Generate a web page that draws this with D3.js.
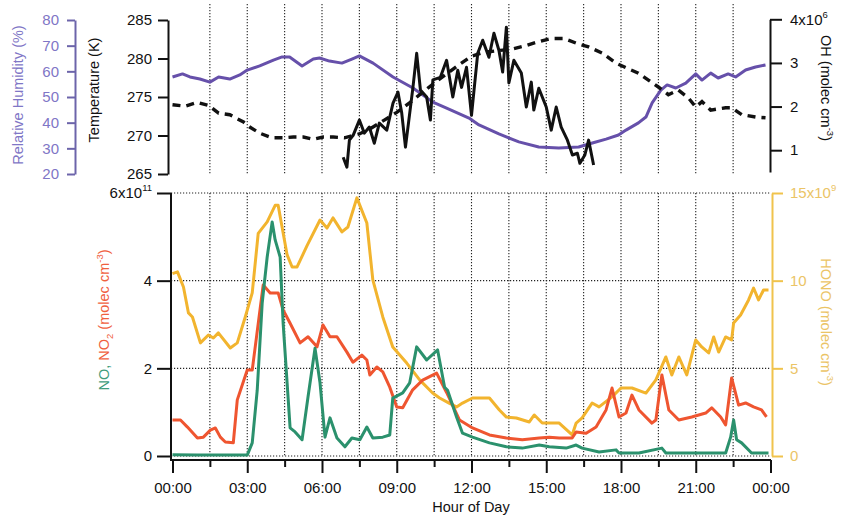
<!DOCTYPE html>
<html>
<head>
<meta charset="utf-8">
<script src="https://cdn.jsdelivr.net/npm/d3@7"></script>
<style>
  body { margin: 0; background: #fff; }
  svg text { font-family: "Liberation Sans", Arial, Helvetica, sans-serif; }
</style>
</head>
<body>
<svg id="chart" width="842" height="516"></svg>
<script>
// ---- Hour-of-day axis ----
const hourTicks = [0, 3, 6, 9, 12, 15, 18, 21, 24];
const hourLabels = ["00:00", "03:00", "06:00", "09:00", "12:00", "15:00", "18:00", "21:00", "00:00"];
const minorHours = [1.5, 4.5, 7.5, 10.5, 13.5, 16.5, 19.5, 22.5];

// ---- Upper panel tick values ----
const rhTicks = [20, 30, 40, 50, 60, 70, 80];
const tempTicks = [265, 270, 275, 280, 285];
const ohTicks = [1, 2, 3, 4];          // x10^6 molec cm-3

// ---- Lower panel tick values ----
const noxTicks = [0, 2, 4, 6];         // x10^11 molec cm-3
const honoTicks = [0, 5, 10, 15];      // x10^9 molec cm-3

// Relative humidity (%)
const rhHours = [0, 0.4, 0.7, 1.1, 1.5, 1.85, 2.3, 2.7, 3.0, 3.5, 4.05, 4.4, 4.7, 5.2, 5.65, 5.9, 6.3, 6.8, 7.2, 7.5,
  8.05, 8.85, 9.65, 10.45, 11.0, 11.9, 12.3, 13.1, 13.9, 14.7, 15.5, 16.3, 16.85, 17.4, 17.9, 18.2, 18.7, 19.0, 19.25,
  19.6, 19.85, 20.2, 20.6, 21.0, 21.25, 21.6, 21.9, 22.3, 22.6, 23.0, 23.4, 23.8];
const rhValues = [57.8, 59.0, 57.8, 57.0, 55.8, 57.8, 57.0, 58.6, 60.5, 62.1, 64.4, 65.6, 65.6, 62.1, 64.8, 65.2, 64.0, 63.2, 64.8, 66.0,
  63.2, 57.8, 53.5, 48.0, 45.7, 41.8, 39.1, 35.6, 32.5, 30.5, 30.1, 30.5, 32.1, 33.6, 35.2, 37.1, 39.9, 42.2, 47.7,
  52.7, 54.7, 53.5, 55.4, 59.0, 56.6, 59.3, 57.4, 59.0, 57.8, 60.5, 61.7, 62.5];

// Temperature (K)
const tempHours = [0, 0.5, 1.0, 1.45, 1.85, 2.3, 2.85, 3.1, 3.5, 4.0, 4.45, 4.85, 5.25, 5.65, 6.05, 6.45, 6.9, 7.5, 8.0, 8.5,
  9.0, 9.5, 10.0, 10.5, 11.0, 11.5, 12.0, 12.5, 13.0, 13.6, 14.2, 14.7, 15.2, 15.7, 16.2, 16.7, 17.25, 17.8, 18.2, 18.7,
  19.1, 19.5, 19.9, 20.3, 20.7, 21.0, 21.25, 21.6, 22.2, 22.45, 22.85, 23.4, 23.8];
const tempValues = [274.0, 273.8, 274.3, 273.9, 272.9, 272.7, 271.75, 271.1, 270.3, 269.7, 269.7, 269.8, 269.8, 269.5, 269.8, 269.8, 269.7, 270.2, 271.0, 272.0,
  273.0, 274.2, 275.5, 276.8, 278.0, 279.2, 280.3, 280.8, 281.0, 281.2, 281.7, 282.2, 282.6, 282.6, 282.0, 281.5, 280.7, 279.4, 278.8, 278.1,
  277.2, 276.3, 275.3, 275.9, 274.9, 273.7, 274.4, 273.3, 273.6, 273.6, 272.7, 272.4, 272.3];

// OH (x10^6 molec cm-3)
const ohHours = [6.85, 7.0, 7.1, 7.25, 7.5, 7.7, 7.9, 8.1, 8.3, 8.6, 8.85, 9.05, 9.2, 9.35, 9.65, 9.8, 9.95, 10.2, 10.35, 10.45,
  10.75, 11.0, 11.25, 11.45, 11.6, 11.8, 12.0, 12.25, 12.45, 12.7, 12.9, 13.1, 13.25, 13.4, 13.5, 13.7, 14.0, 14.2, 14.4, 14.5,
  14.7, 15.0, 15.2, 15.4, 15.6, 15.85, 16.05, 16.25, 16.35, 16.55, 16.7, 16.9];
const ohValues = [0.84, 0.61, 1.23, 1.34, 1.69, 1.39, 1.53, 1.16, 1.62, 1.46, 2.08, 2.33, 1.85, 1.07, 2.44, 3.22, 2.38, 2.22, 1.69, 2.61,
  2.67, 3.06, 2.22, 2.83, 2.44, 2.90, 1.80, 3.22, 3.52, 3.13, 3.68, 3.29, 2.79, 3.82, 2.54, 3.06, 2.77, 1.99, 2.56, 1.92,
  2.42, 1.99, 1.46, 1.99, 1.53, 1.23, 0.89, 0.93, 0.70, 0.89, 1.23, 0.66];

// NO (x10^11 molec cm-3)
const noHours = [0, 1.0, 2.0, 3.0, 3.2, 3.4, 3.6, 3.8, 4.0, 4.12, 4.32, 4.44, 4.72, 4.92, 5.2, 5.44, 5.72, 5.92, 6.12, 6.32,
  6.6, 6.92, 7.2, 7.52, 7.8, 8.04, 8.44, 8.72, 8.84, 9.24, 9.52, 9.8, 10.2, 10.64, 10.92, 11.04, 11.4, 11.64, 12.04, 12.72,
  13.4, 14.04, 14.72, 15.12, 15.8, 16.2, 16.44, 17.12, 17.8, 17.92, 18.72, 19.64, 19.8, 20.72, 22.2, 22.4, 22.52, 22.64, 22.84, 23.24, 23.92];
const noValues = [0.03, 0.02, 0.02, 0.02, 0.3, 1.5, 3.49, 4.54, 5.34, 4.93, 4.54, 3.03, 0.64, 0.55, 0.37, 1.35, 2.46, 1.67, 0.43, 0.87,
  0.41, 0.21, 0.41, 0.37, 0.66, 0.41, 0.43, 0.48, 1.32, 1.44, 1.67, 2.49, 2.19, 2.42, 1.57, 1.5, 0.89, 0.52, 0.43, 0.3,
  0.21, 0.18, 0.25, 0.21, 0.18, 0.25, 0.18, 0.09, 0.14, 0.07, 0.07, 0.18, 0.07, 0.07, 0.07, 0.43, 0.82, 0.37, 0.3, 0.07, 0.07];

// NO2 (x10^11 molec cm-3)
const no2Hours = [0, 0.32, 0.6, 1.0, 1.24, 1.52, 1.72, 1.92, 2.12, 2.44, 2.6, 3.0, 3.2, 3.64, 3.92, 4.24, 4.44, 4.72, 5.12, 5.44,
  5.8, 6.04, 6.32, 6.6, 7.0, 7.24, 7.6, 7.8, 7.92, 8.2, 8.44, 8.72, 9.0, 9.24, 9.64, 10.04, 10.6, 11.0, 11.24, 11.52,
  12.04, 12.72, 13.4, 14.04, 14.72, 15.12, 15.52, 16.04, 16.2, 16.6, 17.0, 17.4, 17.64, 17.92, 18.2, 18.44, 18.72, 19.24, 19.4, 19.64,
  19.92, 20.32, 20.84, 21.4, 21.64, 22.0, 22.2, 22.44, 22.72, 23.0, 23.32, 23.64, 23.84];
const no2Values = [0.82, 0.82, 0.66, 0.41, 0.43, 0.59, 0.64, 0.43, 0.32, 0.30, 1.28, 1.96, 1.96, 3.9, 3.72, 3.72, 3.33, 3.03, 2.58, 2.72,
  2.49, 2.99, 2.72, 2.72, 2.37, 2.14, 2.3, 2.19, 1.85, 2.03, 1.92, 1.57, 1.12, 1.1, 1.51, 1.73, 1.89, 1.45, 1.16, 0.82,
  0.64, 0.48, 0.41, 0.37, 0.41, 0.43, 0.41, 0.41, 0.55, 0.52, 0.66, 1.05, 1.55, 0.89, 0.98, 1.39, 1.05, 0.75, 0.82, 1.85,
  1.05, 0.82, 0.89, 0.98, 1.1, 0.89, 0.71, 1.78, 1.16, 1.21, 1.12, 1.05, 0.89];

// HONO (x10^9 molec cm-3)
const honoHours = [0, 0.2, 0.44, 0.64, 0.8, 1.12, 1.44, 1.64, 1.84, 2.32, 2.6, 2.92, 3.2, 3.44, 3.8, 4.12, 4.24, 4.6, 4.8, 5.0,
  5.4, 5.92, 6.2, 6.44, 6.8, 7.04, 7.4, 7.8, 8.04, 8.44, 8.84, 9.4, 9.92, 10.44, 10.72, 11.12, 11.4, 11.64, 12.04, 12.72,
  13.12, 13.4, 13.8, 14.32, 14.52, 14.84, 15.52, 16.04, 16.2, 16.44, 16.84, 17.12, 17.64, 18.0, 18.44, 19.0, 19.4, 19.8, 20.04, 20.32,
  20.64, 21.0, 21.24, 21.52, 21.72, 21.92, 22.2, 22.44, 22.52, 22.8, 23.12, 23.32, 23.52, 23.72, 23.92];
const honoValues = [10.4, 10.5, 9.64, 8.16, 7.93, 6.45, 6.9, 6.73, 7.02, 6.16, 6.45, 7.93, 9.3, 12.7, 13.35, 14.3, 14.3, 11.47, 10.78, 10.78,
  12.0, 13.46, 13.0, 13.58, 12.78, 13.06, 14.72, 13.29, 10.04, 7.93, 6.22, 5.3, 4.34, 3.59, 3.31, 3.0, 2.8, 3.02, 3.31, 3.31,
  2.62, 2.22, 2.17, 1.94, 2.34, 1.88, 1.88, 1.2, 1.88, 2.17, 3.02, 2.8, 3.37, 3.88, 3.88, 3.59, 4.34, 5.65, 4.62, 5.65,
  4.62, 6.62, 6.22, 5.88, 6.79, 5.93, 6.79, 6.62, 7.59, 8.04, 8.9, 9.58, 8.9, 9.47, 9.47];

// ---- Colours ----
const C = {
  rhLine: "#6650aa", rhAxis: "#6c64aa", rhText: "#7f76c6",
  no: "#2b916d", noText: "#3f9c7c",
  no2: "#ef5530", no2Text: "#f0603e",
  hono: "#f2b42e", honoAxis: "#f0c34c", honoText: "#ebc466",
  ink: "#111"
};

const svg = d3.select("#chart");

// ---- Scales ----
const x = d3.scaleLinear().domain([0, 24]).range([172.5, 770.5]);
const yRH = d3.scaleLinear().domain([20, 80]).range([174, 20]);
const yT = d3.scaleLinear().domain([265, 285]).range([174, 20]);
const yOH = d3.scaleLinear().domain([0.5, 4]).range([172, 19.3]);
const yN = d3.scaleLinear().domain([0, 6]).range([456, 193]);
const yH = d3.scaleLinear().domain([0, 15]).range([456, 193]);

const zip = (h, v) => h.map((d, i) => [d, v[i]]);
const intFmt = d3.format("d");
const TICK_FONT = 15;

// ---- Dotted grid ----
const grid = svg.append("g")
  .attr("stroke", "#222").attr("stroke-width", 1.1).attr("stroke-dasharray", "1.2,1.8").attr("fill", "none");
const gridHours = d3.range(1, 16).map(i => i * 1.5);
grid.selectAll("line.vt").data(gridHours).join("line").attr("class", "vt")
  .attr("x1", d => x(d)).attr("x2", d => x(d)).attr("y1", 4).attr("y2", 175);
grid.selectAll("line.vb").data(gridHours).join("line").attr("class", "vb")
  .attr("x1", d => x(d)).attr("x2", d => x(d)).attr("y1", yN(6)).attr("y2", yN(0));
grid.selectAll("line.h").data(noxTicks).join("line").attr("class", "h")
  .attr("x1", 171).attr("x2", 771).attr("y1", d => yN(d)).attr("y2", d => yN(d));

// ---- Helpers ----
function styleAxis(g, lineColor, textColor) {
  g.select(".domain").attr("stroke", lineColor).attr("stroke-width", 2);
  g.selectAll(".tick line").attr("stroke", lineColor).attr("stroke-width", 2);
  g.selectAll(".tick text").attr("fill", textColor).attr("font-size", TICK_FONT)
    .style("font-family", '"Liberation Sans", Arial, sans-serif');
}
function withExponent(textSel, base, exp) {
  textSel.text(base).append("tspan").attr("dy", -7).attr("font-size", 9.5).text(exp);
}

// ---- Upper panel axes ----
const gRH = svg.append("g").attr("transform", "translate(75,0)")
  .call(d3.axisLeft(yRH).tickValues(rhTicks).tickFormat(intFmt).tickSize(8).tickSizeOuter(0).tickPadding(8));
styleAxis(gRH, C.rhAxis, C.rhText);

const gT = svg.append("g").attr("transform", "translate(168,0)")
  .call(d3.axisLeft(yT).tickValues(tempTicks).tickFormat(intFmt).tickSize(10).tickSizeOuter(0).tickPadding(6));
styleAxis(gT, C.ink, C.ink);

const gOH = svg.append("g").attr("transform", "translate(770,0)")
  .call(d3.axisRight(yOH).tickValues(ohTicks).tickFormat(intFmt).tickSize(12).tickSizeOuter(0).tickPadding(8));
styleAxis(gOH, C.ink, C.ink);
gOH.selectAll(".tick text").filter(d => d === 4).each(function () { withExponent(d3.select(this), "4x10", "6"); });

// ---- Lower panel axes ----
const gN = svg.append("g").attr("transform", "translate(171,0)")
  .call(d3.axisLeft(yN).tickValues(noxTicks).tickFormat(intFmt).tickSize(14).tickSizeOuter(0).tickPadding(5));
styleAxis(gN, C.ink, C.ink);
gN.select(".domain").remove();
gN.append("line").attr("x1", 0).attr("x2", 0).attr("y1", yN(6)).attr("y2", 461)
  .attr("stroke", C.ink).attr("stroke-width", 2);
gN.selectAll(".tick text").filter(d => d === 6).each(function () { withExponent(d3.select(this), "6x10", "11"); });

const gH = svg.append("g").attr("transform", "translate(772,0)")
  .call(d3.axisRight(yH).tickValues(honoTicks).tickFormat(intFmt).tickSize(11).tickSizeOuter(0).tickPadding(7));
styleAxis(gH, C.honoAxis, C.honoText);
gH.selectAll(".tick text").filter(d => d === 15).each(function () { withExponent(d3.select(this), "15x10", "9"); });

// ---- Hour-of-day axis ----
const gX = svg.append("g").attr("transform", "translate(0,460)")
  .call(d3.axisBottom(x).tickValues(hourTicks).tickSize(13).tickSizeOuter(0).tickPadding(9)
    .tickFormat((d, i) => hourLabels[i]));
styleAxis(gX, C.ink, C.ink);
gX.select(".domain").attr("d", `M171,0H771`);
const gXm = svg.append("g").attr("transform", "translate(0,460)")
  .call(d3.axisBottom(x).tickValues(minorHours).tickSize(7).tickSizeOuter(0).tickFormat(""));
gXm.select(".domain").remove();
gXm.selectAll(".tick line").attr("stroke", C.ink).attr("stroke-width", 2);

// ---- Series ----
const line = yScale => d3.line().x(d => x(d[0])).y(d => yScale(d[1]));

svg.append("path").datum(zip(rhHours, rhValues)).attr("d", line(yRH))
  .attr("fill", "none").attr("stroke", C.rhLine).attr("stroke-width", 3).attr("stroke-linejoin", "round");
svg.append("path").datum(zip(tempHours, tempValues)).attr("d", line(yT))
  .attr("fill", "none").attr("stroke", C.ink).attr("stroke-width", 3.4).attr("stroke-dasharray", "8,6");
svg.append("path").datum(zip(ohHours, ohValues)).attr("d", line(yOH))
  .attr("fill", "none").attr("stroke", C.ink).attr("stroke-width", 3).attr("stroke-linejoin", "round");

svg.append("path").datum(zip(honoHours, honoValues)).attr("d", line(yH))
  .attr("fill", "none").attr("stroke", C.hono).attr("stroke-width", 3).attr("stroke-linejoin", "round");
svg.append("path").datum(zip(no2Hours, no2Values)).attr("d", line(yN))
  .attr("fill", "none").attr("stroke", C.no2).attr("stroke-width", 3).attr("stroke-linejoin", "round");
svg.append("path").datum(zip(noHours, noValues)).attr("d", line(yN))
  .attr("fill", "none").attr("stroke", C.no).attr("stroke-width", 3).attr("stroke-linejoin", "round");

// ---- Axis titles ----
function title(cx, cy, angle) {
  return svg.append("text").attr("transform", `translate(${cx},${cy}) rotate(${angle})`)
    .attr("text-anchor", "middle").attr("dy", "0.35em").attr("font-size", 14.5);
}
title(18, 95, -90).attr("fill", C.rhText).text("Relative Humidity (%)");
title(94, 90, -90).attr("fill", C.ink).text("Temperature (K)");

const tOH = title(826, 88, 90).attr("fill", C.ink);
tOH.append("tspan").text("OH (molec cm");
tOH.append("tspan").attr("dy", -6).attr("font-size", 9.5).text("-3");
tOH.append("tspan").attr("dy", 6).text(")");

const tN = title(104, 320, -90);
tN.append("tspan").attr("fill", C.noText).text("NO, ");
tN.append("tspan").attr("fill", C.no2Text).text("NO");
tN.append("tspan").attr("fill", C.no2Text).attr("dy", 4).attr("font-size", 9.5).text("2");
tN.append("tspan").attr("fill", C.no2Text).attr("dy", -4).text(" (molec cm");
tN.append("tspan").attr("fill", C.no2Text).attr("dy", -6).attr("font-size", 9.5).text("-3");
tN.append("tspan").attr("fill", C.no2Text).attr("dy", 6).text(")");

const tH = title(826, 322, 90).attr("fill", C.honoText);
tH.append("tspan").text("HONO (molec cm");
tH.append("tspan").attr("dy", -6).attr("font-size", 9.5).text("-3");
tH.append("tspan").attr("dy", 6).text(")");

svg.append("text").attr("x", 471).attr("y", 507).attr("dy", "0.35em").attr("text-anchor", "middle")
  .attr("font-size", 14.5).attr("fill", C.ink).text("Hour of Day");
</script>
</body>
</html>
